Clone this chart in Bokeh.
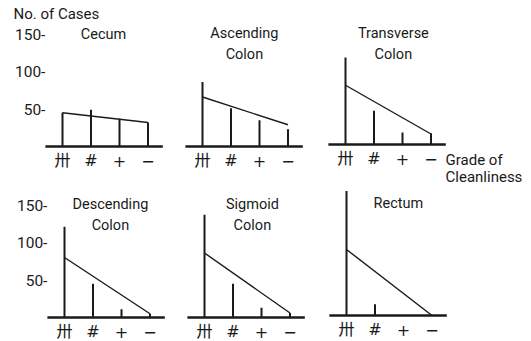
from bokeh.plotting import figure
from bokeh.layouts import row, column
from bokeh.models import Range1d, ColumnDataSource
from bokeh.core.properties import value
from bokeh.embed import file_html
from bokeh.resources import INLINE

# ---- data -------------------------------------------------------------
grades = ["卅", "#", "+", "−"]          # grade of cleanliness, worst to best
grade_pos = [0, 1, 2, 3]

segments = ["Cecum", "Ascending Colon", "Transverse Colon",
            "Descending Colon", "Sigmoid Colon", "Rectum"]
title_lines = [["Cecum"], ["Ascending", "Colon"], ["Transverse", "Colon"],
               ["Descending", "Colon"], ["Sigmoid", "Colon"], ["Rectum"]]

cecum = [45, 49, 37, 32]
ascending = [86, 51, 35, 23]
transverse = [116, 45, 16, 15]
descending = [121, 45, 11, 5]
sigmoid = [137, 45, 13, 6]
rectum = [166, 15, 0, 0]
counts = [cecum, ascending, transverse, descending, sigmoid, rectum]

# trend line values at the first and last grade
trend_start = [45, 66, 79, 80, 86, 88]
trend_end = [32, 29, 14, 5, 6, 0]

y_ticks = [150, 100, 50]
y_tick_labels = ["150-", "100-", "50-"]

# ---- layout -----------------------------------------------------------
INK = "#1a1a1a"
FONT = value("Roboto")
GRADE_FONT = value("'DejaVu Sans', 'Noto Sans CJK JP'")
SX = 28.5     # px per grade step
SY = 0.75     # px per case

col_left = [0, 170, 322]
col_width = [170, 152, 209]
row_top = [0, 186]
row_height = [186, 155]

# pixel anchor of the first grade at zero cases, per panel
anchor = [(62, 146), (202, 146), (345, 144), (64, 317), (204, 317), (346, 315)]
title_x = [1.44, 1.47, 1.68, 1.61, 1.68, 1.82]
title_y = [149, 151, 148, 151, 151, 149]


def panel(i):
    r, c = divmod(i, 3)
    x0, base = anchor[i]
    left, w = col_left[c], col_width[c]
    top, h = row_top[r], row_height[r]
    p = figure(width=w, height=h, output_backend="svg", toolbar_location=None,
               x_axis_type=None, y_axis_type=None, min_border=0,
               outline_line_color=None, background_fill_color="white",
               border_fill_color="white",
               x_range=Range1d((left - x0) / SX, (left + w - x0) / SX),
               y_range=Range1d((base - (top + h)) / SY, (base - top) / SY))

    # baseline
    p.segment(x0=[-0.6], y0=[0], x1=[3.52], y1=[0], line_color=INK, line_width=2.6)

    # stems
    src = ColumnDataSource(dict(x=grade_pos, y=counts[i], g=grades))
    p.segment(x0="x", y0=0, x1="x", y1="y", source=src, line_color=INK, line_width=2)

    # trend line
    p.segment(x0=[0], y0=[trend_start[i]], x1=[3], y1=[trend_end[i]],
              line_color=INK, line_width=1.4)

    # grade labels
    p.text(x="x", y=0, text="g", source=src, y_offset=14, text_align="center",
           text_baseline="middle", text_font=GRADE_FONT, text_font_size="16px",
           text_color=INK)

    # panel title
    for k, line in enumerate(title_lines[i]):
        p.text(x=[title_x[i]], y=[title_y[i] - k * 21 / SY], text=[line],
               text_align="center", text_baseline="middle", text_font=FONT,
               text_font_size="14.5px", text_color=INK)

    # value labels on the left column
    if c == 0:
        p.text(x=[-0.6] * 3, y=y_ticks, text=y_tick_labels, text_align="right",
               text_baseline="middle", text_font=FONT, text_font_size="15.5px",
               text_color=INK)
    return p


figs = [panel(i) for i in range(6)]

figs[0].text(x=[-1.72], y=[177], text=["No. of Cases"], text_align="left",
             text_baseline="middle", text_font=FONT, text_font_size="15px",
             text_color=INK)
figs[2].text(x=[3.51, 3.51], y=[-20, -43], text=["Grade of", "Cleanliness"],
             text_align="left", text_baseline="middle", text_font=FONT,
             text_font_size="15px", text_color=INK)

layout = row(column(figs[0], figs[3]), column(figs[1], figs[4]),
             column(figs[2], figs[5]))

open("out.html", "w").write(file_html(layout, INLINE))
